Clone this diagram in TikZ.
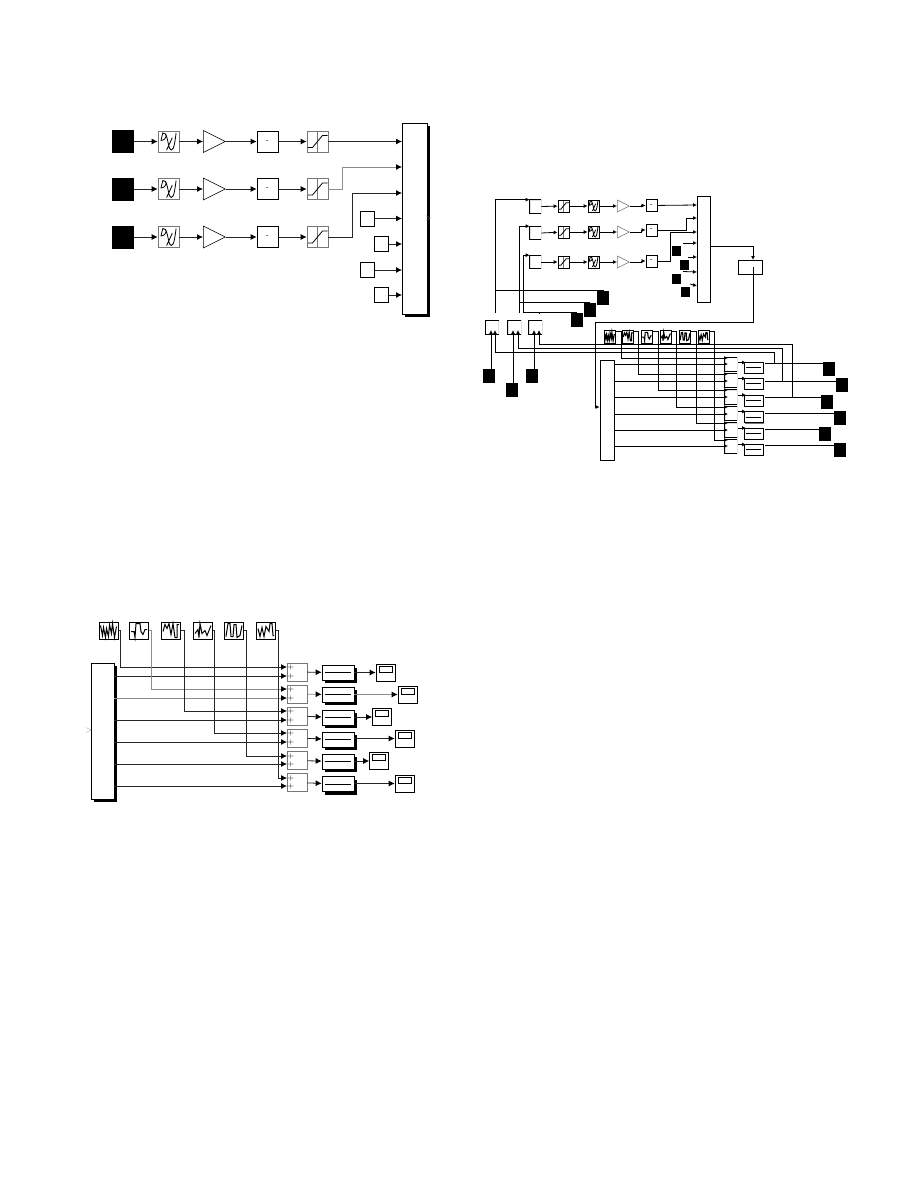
\documentclass[tikz,border=0pt]{standalone}
\usepackage{xcolor}
\usepackage{tikz}
\usetikzlibrary{arrows.meta,positioning,calc,shapes.geometric,shadows}
\definecolor{WireGray}{HTML}{8C8C8C}
\definecolor{EdgeGray}{HTML}{777777}
\newcommand{\waveA}{(-8,-5)--(-6,5)--(-5,-3)--(-3,7)--(-2,-2)--(0,6)--(1,-6)--(3,3)--(4,-7)--(6,7)--(8,-4)}
\newcommand{\waveB}{(-8,1)--(-5,1)--(-4,7)--(-3,-7)--(1,-7)--(2,1)--(4,4)--(6,-1)--(8,-1)}
\newcommand{\waveC}{(-8,1)--(-6,-6)--(-4,-2)--(-2,-7)--(0,4)--(2,-7)--(4,7)--(6,7)--(6,-6)--(8,-6)}
\newcommand{\waveD}{(-8,3)--(-5,-1)--(-4,7)--(-3,-7)--(-1,3)--(2,0)--(4,5)--(8,-5)}
\newcommand{\waveE}{(-8,6)--(-6,-7)--(-4,-7)--(-3,6)--(-1,6)--(0,-6)--(2,-6)--(3,7)--(6,5)--(8,-5)}
\newcommand{\waveF}{(-8,-2)--(-6,6)--(-4,-3)--(-2,6)--(0,-4)--(3,1)--(4,-7)--(6,-7)--(7,5)--(8,5)}
\newcommand{\fcnicon}[2]{\draw[shift={(#1)},scale=#2,line width=.8pt] (-8,-1)--(-6,-9) .. controls (-1,-9) and (-1,-2) .. (-8,-1) (-3,-8) .. controls (0,-1) and (0,9) .. (3,9) .. controls (6,9) and (7,-2) .. (8,-9) (-2,9) -- (4,-4);}
\newcommand{\saticon}[2]{\draw[shift={(#1)},scale=#2,EdgeGray,line width=1.2pt] (0,-10)--(0,10); \draw[shift={(#1)},scale=#2,line width=.8pt] (-10,6)--(-5,6)--(5,-6)--(10,-6);}
% three dark sides, the right one stays faint
\newcommand{\opensides}[1]{\draw[line width=.8pt] (#1.north east) -- (#1.north west) -- (#1.south west) -- (#1.south east);}

\begin{document}
\begin{tikzpicture}[
  x=1pt, y=-1pt,
  bx/.style={draw, fill=white, inner sep=0pt, line width=.7pt},
  src/.style={draw=black, fill=black, inner sep=0pt},
  big/.style={bx, drop shadow={shadow xshift=3pt, shadow yshift=-3pt, fill=black, opacity=1}},
  bigs/.style={bx, drop shadow={shadow xshift=1pt, shadow yshift=-1pt, fill=EdgeGray, opacity=1}},
  gray box/.style={bx, draw=EdgeGray},
  faint/.style={bx, draw=black!12},
  gainbk/.style={isosceles triangle, isosceles triangle stretches, anchor=west, draw, fill=white, inner sep=0pt, line width=.6pt},
  sz/.style 2 args={minimum width=#1pt, minimum height=#2pt},
  wire/.style={-{Latex[length=6pt,width=6pt,color=black]}, line width=.8pt, draw=black!85},
  wirel/.style={wire, draw=WireGray},
  tiny wire/.style={-{Latex[length=4pt,width=4pt,color=black]}, line width=.8pt, draw=black},
  line/.style={line width=.8pt, draw=black},
  txt/.style={font=\fontsize{8}{8}\selectfont, inner sep=0pt}
]
\useasboundingbox (0,0) rectangle (918,1188);

% upper left model
\foreach \r/\y in {a/141.5,b/189,c/237} {
  \node[src, sz={21}{22}] (srcT\r) at (123,\y) {};
  \node[gray box, sz={21}{21}] (fcnT\r) at (168.5,\y) {};
  \fcnicon{fcnT\r.center}{.95}
  \node[gainbk, minimum height=22pt, minimum width=22pt] (gainT\r) at (203,\y) {};
  \node[bx, sz={21}{21}, txt] (minusT\r) at (267.5,\y) {-};
  \node[gray box, sz={21}{21}] (satT\r) at (317.5,\y) {};
  \saticon{satT\r.center}{1}
  \draw[wire] (srcT\r) -- (fcnT\r);
  \draw[wire] (fcnT\r) -- (gainT\r.west);
  \draw[wire] (gainT\r.east) -- (minusT\r);
  \draw[wire] (minusT\r) -- (satT\r);
}
\node[big, sz={25}{191}] (muxT) at (414.5,218.5) {};
\node[txt, text=gray] (markT) at (428.5,218.5) {>};
\foreach \n/\y in {1/141.5,2/167,3/193,4/218.5,5/244,6/270,7/295}
  \coordinate (portT\n) at (402,\y);
\draw[wire] (satTa) -- (portT1);
\draw[wirel] (satTb.east) -- (342,189) |- (portT2);
\draw[wire] (satTc.east) -- (352,237) |- (portT3);
\foreach \n/\x/\y in {4/367.5/218.5,5/381.5/244,6/367.5/270,7/381.5/295} {
  \node[bx, sz={14}{15}] (cstT\n) at (\x,\y) {};
  \draw[wire] (cstT\n) -- (portT\n);
}

% upper right model
\foreach \r/\y/\ym/\yb in {a/206/205.5/206.5,b/232/230/233,c/262/261/262} {
  \node[faint, sz={11}{13}] (inR\r) at (535.5,\yb) {};
  \opensides{inR\r}
  \node[bx, sz={11}{12}] (satR\r) at (563.5,\y) {};
  \saticon{satR\r.center}{.55}
  \node[bx, sz={11}{12}] (fcnR\r) at (593.5,\y) {};
  \fcnicon{fcnR\r.center}{.55}
  \node[gainbk, draw=EdgeGray, minimum height=12pt, minimum width=12pt] (gainR\r) at (617,\y) {};
  \node[bx, sz={11}{12}, txt] (minusR\r) at (651.5,\ym) {-};
  \draw[tiny wire] (inR\r.east) -- (satR\r);
  \draw[tiny wire] (satR\r) -- (fcnR\r);
  \draw[tiny wire] (fcnR\r) -- (gainR\r.west);
  \draw[tiny wire] (gainR\r.east) -- ++(11,0) |- (minusR\r.west);
}
\node[bigs, sz={13}{106}] (muxR) at (703.5,249) {};
\foreach \n/\y in {1/205,2/218,3/232,4/243,5/257,6/272,7/286}
  \coordinate (portR\n) at (697,\y);
\draw[tiny wire] (minusRa) -- (portR1);
\draw[tiny wire] (minusRb.east) -- (686,230) |- (portR2);
\draw[tiny wire] (minusRc.east) -- (670,261) |- (portR3);
\foreach \n/\x/\y/\s in {4/676/250.5/683,5/684/264.5/688,6/676/279/683,7/685/291.5/690} {
  \node[src, sz={8}{9}] (cstR\n) at (\x,\y) {};
  \draw[tiny wire] (\s,\y-7.5) -- (portR\n);
}
\node[bigs, sz={24}{14}] (pidR) at (750,267) {};
\draw[tiny wire] (muxR.east |- 0,246) -| (753,260);
\node[bigs, sz={14}{100}] (demuxR) at (607,410) {};
\draw[tiny wire] (753,267) |- (595,322) |- (demuxR.west |- 0,407);

% feedback from the shaft blocks
\foreach \p/\x in {a/492,b/514.5,c/535.5} {
  \node[faint, sz={13}{14}] (prodR\p) at (\x,327.5) {};
  \opensides{prodR\p}
}
\node[src, sz={11}{13}] (outRa) at (603,297.5) {};
\node[src, sz={11}{13}] (outRb) at (589.5,309.5) {};
\node[src, sz={11}{13}] (outRc) at (576.5,319.5) {};
\draw[tiny wire] ([shift={(3,-7)}]prodRa.north) |- (inRa.north west);
\draw[tiny wire] ([shift={(4.5,-7)}]prodRb.north) |- (inRb.north west);
\draw[tiny wire] (523,312) |- (inRc.north west);
\draw[line] (495,290) -| (outRa.north);
\draw[line] (519,302) -| (outRb.north);
\draw[line] (523,312) -| (outRc.north);
\draw[line] (539,312) -- (539,314);
\node[src, sz={11}{13}] (refRa) at (489,375.5) {};
\node[src, sz={11}{13}] (refRb) at (511.5,389.5) {};
\node[src, sz={11}{13}] (refRc) at (532,375.5) {};
\draw[tiny wire] (491,369) -- (491,330);
\draw[tiny wire] (513,383) -- (513,330);
\draw[tiny wire] (534,369) -- (534,330);

% disturbance sources and output rows
\foreach \i/\gx/\vx/\ya/\yb/\ys/\ib/\xo/\yo/\xq in {
  1/609.5/621/358/364/364.5/367.5/828.5/368.5/363,
  2/628/638/374/381/380.5/383.5/841.5/384.5/381,
  3/647/658/390/397/397/400.5/826.5/401.5/397,
  4/665.5/676/407/414/413.5/417/839.5/417.5/413,
  5/685/696/423/430/430/433.5/824.5/433.5/429,
  6/703.5/714/440/446/446.5/449.5/839.5/450/445} {
  \node[bx, sz={11}{13}] (genR\i) at (\gx,336.5) {};
  \node[faint, sz={12}{14}] (sumR\i) at (731,\ys) {};
  \draw[line] (sumR\i.north east) -- (sumR\i.north west) -- (sumR\i.south west) -- (sumR\i.south east);
  \node[bigs, sz={19}{11}] (intR\i) at (753.5,\ib) {};
  \draw[line] (746,\ib) -- (761,\ib);
  \node[src, sz={11}{13}] (outS\i) at (\xo,\yo) {};
  \draw[tiny wire] (genR\i.east |- 0,331) -| (\vx,\ya) -- (728,\ya);
  \draw[tiny wire] (demuxR.east |- 0,\yb) -- (728,\yb);
  \draw[tiny wire] (738,\ys-2) -- (746,\ys-2);
  \draw[line] (765,\xq) -- (outS\i.west |- 0,\xq);
}
\foreach \i/\w in {1/\waveA,2/\waveC,3/\waveB,4/\waveD,5/\waveE,6/\waveF}
  \draw[shift={(genR\i.center)}, scale=.6, line width=1.1pt] \w;
\coordinate (tapA) at (774,363);
\coordinate (tapB) at (782,381);
\coordinate (tapC) at (792,397);
\draw[tiny wire] (tapA) |- (495,352) -- (495,330);
\draw[tiny wire] (tapB) |- (518,348) -- (518,330);
\draw[tiny wire] (tapC) |- (539,344) -- (539,330);

% lower left model
\node[big, sz={23}{136}] (demuxB) at (102.5,731) {};
\node[txt, text=gray] (markB) at (89,730.5) {>};
\foreach \i/\gx/\vx/\ya/\yb/\ys/\yi/\ysc/\xsc/\ww/\wt in {
  1/108.5/120/667/676/672/672.5/672.5/385.5/\waveA/wire,
  2/139/151/689/698/694/694.5/694.5/407.5/\waveB/wirel,
  3/171/184/711/720/716/717.5/717/382/\waveC/wire,
  4/203/214/733/742/738/739.5/738.5/404.5/\waveD/wire,
  5/234/246/756/764/760.5/761.5/761/379/\waveE/wire,
  6/266/278/778/786/782.5/784/783.5/404.5/\waveF/wire} {
  \node[bx, sz={19}{17}] (genB\i) at (\gx,630.5) {};
  \draw[shift={(genB\i.center)}, line width=1pt] \ww;
  \node[gray box, sz={20}{18}] (sumB\i) at (297,\ys) {};
  \node[txt] (plusA\i) at (291,\ya) {+};
  \node[txt] (plusB\i) at (291,\yb) {+};
  \node[big, sz={32}{15}] (intB\i) at (338,\yi) {};
  \draw[line] (325,\yi) -- (351,\yi);
  \node[bx, sz={19}{17}] (scpB\i) at (\xsc,\ysc) {};
  \node[bx, sz={13}{6}] (scrB\i) at (\xsc,\ysc-3.5) {};
  \draw[\wt] (genB\i.east |- 0,630) -| (\vx,\ya) -- (287,\ya);
  \draw[\wt] (demuxB.east |- 0,\yb) -- (287,\yb);
  \draw[\wt] (sumB\i) -- (intB\i);
  \draw[\wt] (intB\i.east |- 0,\ysc) -- (scpB\i.west |- 0,\ysc);
}
\end{tikzpicture}
\end{document}
